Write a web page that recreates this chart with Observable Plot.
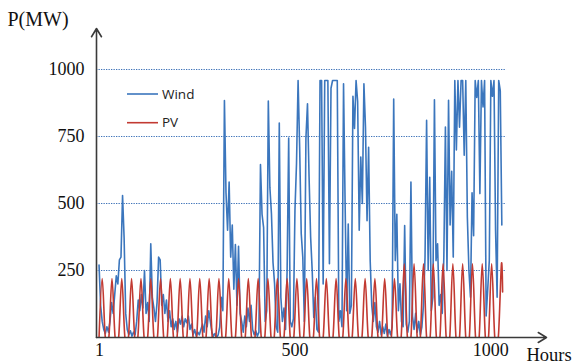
<!DOCTYPE html>
<html><head><meta charset="utf-8">
<script src="https://cdn.jsdelivr.net/npm/d3@7"></script>
<script src="https://cdn.jsdelivr.net/npm/@observablehq/plot@0.6"></script>
<style>html,body{margin:0;padding:0;background:#fff}</style>
</head><body><div id="chart"></div>
<script>
// ---- data ----
const windStepHours = 4; // wind sampled every 4 hours starting at hour 0
const windValues = [
 270,120,60,30,15,40,20,60,130,90,
 160,230,200,290,300,530,370,90,30,10,
 25,5,20,10,60,140,100,160,110,250,
 90,130,60,350,150,110,60,130,300,290,
 120,160,90,140,60,100,40,70,30,60,
 20,70,50,80,40,70,55,80,30,50,
 10,30,5,20,10,30,50,20,80,40,
 100,60,20,5,15,0,10,40,150,100,
 884,540,400,580,300,420,180,347,120,340,
 90,60,20,80,40,110,60,120,30,10,
 25,5,20,645,460,410,60,100,882,560,
 462,280,200,40,20,800,150,60,110,30,
 250,744,60,40,70,474,650,959,
 710,388,300,60,744,872,600,375,250,75,
 150,30,20,959,959,200,959,959,959,275,
 930,959,959,959,959,60,100,40,947,500,
 100,423,90,120,900,780,959,880,400,673,
 500,947,785,436,710,287,120,60,130,40,
 20,60,10,40,15,50,5,30,10,40,
 890,287,460,100,200,
 60,40,418,50,20,60,580,80,30,90,
 20,60,10,40,120,300,810,250,598,100,
 150,887,287,350,120,160,90,300,785,250,
 885,420,620,300,959,700,959,785,959,959,
 680,959,450,250,150,540,380,959,896,959,
 537,959,860,959,80,180,287,959,900,959,
 400,150,959,921,420
];
const pvHours = [
 0,8,16, 25,33,41, 50,58,66, 75,83,91, 99,107,115, 124,132,140, 149,157,165, 174,182,190, 199,207,215, 224,232,240,
 249,257,265, 273,281,289, 298,306,314, 323,331,339, 348,356,364, 373,381,389, 398,406,414, 423,431,439, 447,455,463, 472,480,488,
 497,505,513, 522,530,538, 547,555,563, 572,580,588, 597,605,613, 622,630,638, 646,654,662, 671,679,687, 696,704,712, 721,729,737,
 746,754,762, 771,779,787, 796,804,812, 820,828,836, 845,853,861, 870,878,886, 895,903,911, 920,928,936, 945,953,961, 970,978,986,
 994,1002,1010, 1019,1027,1030
];
const pvValues = [
 0,220,0, 0,220,0, 0,220,0, 0,220,0, 0,220,0, 0,220,0, 0,220,0, 0,220,0, 0,220,0, 0,220,0,
 0,220,0, 0,220,0, 0,220,0, 0,220,0, 0,220,0, 0,220,0, 0,220,0, 0,220,0, 0,220,0, 0,220,0,
 0,220,0, 0,220,0, 0,220,0, 0,220,0, 0,220,0, 0,220,0, 0,220,0, 0,220,0, 0,220,0, 0,220,0,
 0,220,0, 0,275,0, 0,275,0, 0,275,0, 0,275,0, 0,275,0, 0,275,0, 0,275,0, 0,275,0, 0,275,0,
 0,275,0, 0,275,170
];
const yTicks = [250, 500, 750, 1000];
const xTicks = [1, 500, 1000];
const seriesNames = ["Wind", "PV"];
const seriesColors = ["#3b76bd", "#c23a32"];
const yLabel = "P(MW)";
const xLabel = "Hours";

// ---- build tables ----
const wind = windValues.map((v, i) => ({hour: i * windStepHours, p: v}));
const pv = pvHours.map((h, i) => ({hour: h, p: pvValues[i]}));

const xMin = -6.5, xMax = 1142, yMax = 1153, gridEnd = 1040;
const serif = '"Liberation Serif", "Times New Roman", serif';

const chart = Plot.plot({
  width: 574, height: 364,
  marginLeft: 96, marginRight: 28, marginTop: 28, marginBottom: 27,
  style: {fontFamily: serif, fontSize: "18px", background: "#fff"},
  x: {domain: [xMin, xMax], axis: null},
  y: {domain: [0, yMax], axis: null},
  marks: [
    Plot.ruleY(yTicks, {x1: () => xMin, x2: () => gridEnd, stroke: "#3d72b8", strokeDasharray: "1.3,1.2", strokeWidth: 1}),
    Plot.line(wind, {x: "hour", y: "p", stroke: seriesColors[0], strokeWidth: 1.6, clip: true}),
    Plot.line(pv, {x: "hour", y: "p", stroke: seriesColors[1], strokeWidth: 1.6, curve: "cardinal", clip: true}),
    Plot.arrow([0], {x1: () => xMin, y1: () => 0, x2: () => xMin, y2: () => yMax, stroke: "#3a3a3a", strokeWidth: 1.6, headLength: 9, headAngle: 62}),
    Plot.arrow([0], {x1: () => xMin, y1: () => 0, x2: () => xMax, y2: () => 0, stroke: "#3a3a3a", strokeWidth: 1.6, headLength: 9, headAngle: 62}),
    Plot.axisY(yTicks, {tickSize: 0, tickPadding: 12, fontSize: 18, label: null, tickFormat: d => `${d}`, fill: "#111"}),
    Plot.axisX(xTicks, {tickSize: 0, tickPadding: 6, fontSize: 18, label: null, tickFormat: d => `${d}`, fill: "#111"}),
    Plot.text([yLabel], {frameAnchor: "top-left", textAnchor: "start", lineAnchor: "bottom", dx: -89, dy: -3, fontSize: 20, fill: "#111"}),
    Plot.text([xLabel], {frameAnchor: "bottom-right", textAnchor: "start", lineAnchor: "bottom", dx: -20, dy: 23, fontSize: 18.5, fill: "#111"})
  ]
});

// legend inside the plot
const svg = d3.select(chart);
const leg = svg.append("g").attr("font-family", '"Open Sans", "DejaVu Sans", sans-serif')
  .attr("font-size", 13.5).attr("text-anchor", "start");
seriesNames.forEach((name, i) => {
  const y = 94 + i * 28.7;
  leg.append("line").attr("x1", 127).attr("x2", 158).attr("y1", y).attr("y2", y)
    .attr("stroke", seriesColors[i]).attr("stroke-width", 1.6);
  leg.append("text").attr("x", 162).attr("y", y).attr("dy", "0.35em").attr("fill", "#222").text(name);
});

document.getElementById("chart").appendChild(chart);
</script>
</body></html>
